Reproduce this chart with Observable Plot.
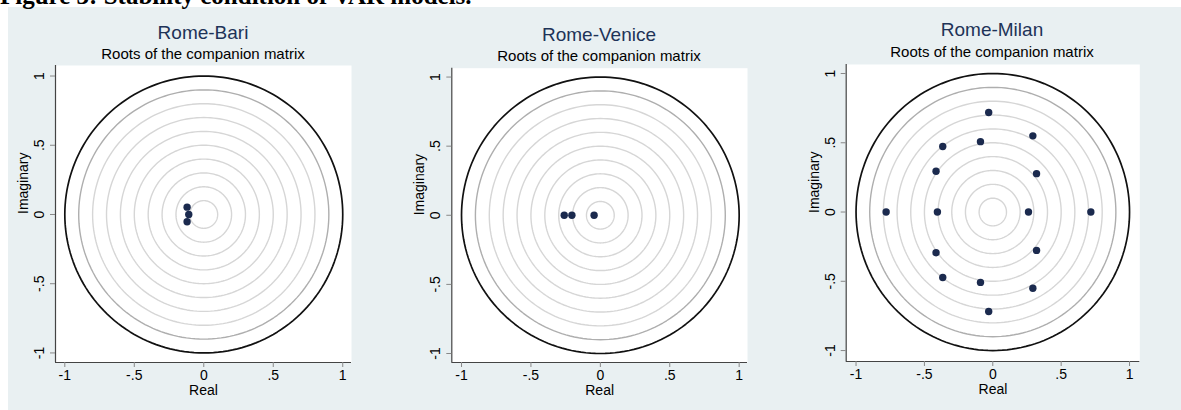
<!DOCTYPE html>
<html>
<head>
<meta charset="utf-8">
<script src="https://cdn.jsdelivr.net/npm/d3@7"></script>
<script src="https://cdn.jsdelivr.net/npm/@observablehq/plot@0.6"></script>
<style>
  html, body { margin: 0; padding: 0; background: #fff; }
  #page { position: relative; width: 1181px; height: 410px; overflow: hidden; background: #fff; }
  #bg { position: absolute; left: 8px; top: 7px; width: 1173px; height: 403px; background: #e9f0f2; }
  #heading { position: absolute; left: 0px; top: -17px; font-family: 'Liberation Serif', 'Times New Roman', serif; font-size: 25px; line-height: 25px; white-space: nowrap; color: #000; font-weight: bold; z-index: 3; }
  .title { position: absolute; font-family: 'Liberation Sans', Arial, sans-serif; font-size: 19px; line-height: 19px; color: #1e3358; text-align: center; width: 300px; white-space: nowrap; z-index: 2; }
  .subtitle { position: absolute; font-family: 'Liberation Sans', Arial, sans-serif; font-size: 15px; line-height: 15px; color: #000; text-align: center; width: 300px; white-space: nowrap; z-index: 2; }
  .plot { position: absolute; top: 0px; z-index: 1; }
</style>
</head>
<body>
<div id="page">
  <div id="bg"></div>
  <div id="heading"></div>
</div>
<script>
// ---- data ----
const headingText = "Figure 3: Stability condition of VAR models.";
const panelTitles = ["Rome-Bari", "Rome-Venice", "Rome-Milan"];
const subtitleText = "Roots of the companion matrix";
const xLabel = "Real";
const yLabel = "Imaginary";

const bariRe = [-0.120, -0.108, -0.120];
const bariIm = [0.053, 0.000, -0.053];

const veniceRe = [-0.260, -0.205, -0.045];
const veniceIm = [0.000, 0.000, 0.000];

const milanRe = [-0.030, 0.293, -0.090, -0.366, -0.415, 0.320, -0.780, -0.405, 0.261, 0.717, -0.415, 0.320, -0.366, -0.090, 0.293, -0.030];
const milanIm = [0.718, 0.550, 0.508, 0.473, 0.294, 0.277, 0.000, 0.000, 0.000, 0.000, -0.294, -0.277, -0.473, -0.508, -0.550, -0.718];

const tickValues = [-1, -0.5, 0, 0.5, 1];
const tickLabels = ["-1", "-.5", "0", ".5", "1"];

const gridRadii = [0.1, 0.2, 0.3, 0.4, 0.5, 0.6, 0.7, 0.8];
const outerGridRadius = [0.9];
const unitRadius = [1];

// ---- layout ----
const layout = [
  {left: 0,   w: 400, ml: 55,   mr: 49,   mt: 65,   mb: 48, xd: [-1.067, 1.063], yd: [-1.069, 1.076], tx: 203, ty: 23, sy: 46},
  {left: 400, w: 395, ml: 51.3, mr: 48,   mt: 67.7, mb: 48, xd: [-1.070, 1.060], yd: [-1.065, 1.064], tx: 599, ty: 25, sy: 48},
  {left: 795, w: 386, ml: 50.7, mr: 41.7, mt: 64,   mb: 49, xd: [-1.072, 1.075], yd: [-1.079, 1.065], tx: 992, ty: 20, sy: 43.5}
];

const seriesRe = [bariRe, veniceRe, milanRe];
const seriesIm = [bariIm, veniceIm, milanIm];

function ringPoints(radii) {
  const angles = d3.range(0, 361, 2);
  return radii.flatMap(r => angles.map(a => ({r, x: r * Math.cos(a * Math.PI / 180), y: r * Math.sin(a * Math.PI / 180)})));
}

function makePanel(cfg, re, im) {
  const roots = re.map((x, i) => ({x, y: im[i]}));
  return Plot.plot({
    width: cfg.w,
    height: 410,
    marginLeft: cfg.ml,
    marginRight: cfg.mr,
    marginTop: cfg.mt,
    marginBottom: cfg.mb,
    x: {domain: cfg.xd},
    y: {domain: cfg.yd},
    style: {background: "transparent", overflow: "visible", fontFamily: "'Liberation Sans', Arial, sans-serif", fontSize: "14px", color: "#000"},
    marks: [
      Plot.frame({fill: "white", stroke: "none"}),
      Plot.line(ringPoints(gridRadii), {x: "x", y: "y", z: "r", stroke: "#d6d6d6", strokeWidth: 1.4}),
      Plot.line(ringPoints(outerGridRadius), {x: "x", y: "y", z: "r", stroke: "#aeaeae", strokeWidth: 1.4}),
      Plot.line(ringPoints(unitRadius), {x: "x", y: "y", z: "r", stroke: "#111", strokeWidth: 1.7}),
      Plot.ruleX([cfg.xd[0]], {stroke: "#444", strokeWidth: 1.2}),
      Plot.ruleY([cfg.yd[0]], {stroke: "#444", strokeWidth: 1.2}),
      Plot.axisX({ticks: tickValues, tickFormat: d => tickLabels[tickValues.indexOf(d)], tickSize: 5, tickPadding: 3, stroke: "#888", fill: "#000", label: null, fontSize: 14}),
      Plot.axisY({ticks: tickValues, tickFormat: () => "", tickSize: 5, stroke: "#888", label: null}),
      Plot.text(tickValues, {x: cfg.xd[0], y: d => d, text: (d, i) => tickLabels[i], rotate: -90, dx: -16, textAnchor: "middle", lineAnchor: "middle", fontSize: 14, fill: "#000"}),
      Plot.text([xLabel], {frameAnchor: "bottom", dy: 32, fontSize: 14, fill: "#000"}),
      Plot.text([yLabel], {frameAnchor: "left", dx: -32, rotate: -90, fontSize: 14, fill: "#000"}),
      Plot.dot(roots, {x: "x", y: "y", r: 3.7, fill: "#1b2a4e", stroke: "none"})
    ]
  });
}

const page = document.getElementById("page");
document.getElementById("heading").textContent = headingText;

layout.forEach((cfg, i) => {
  const svg = makePanel(cfg, seriesRe[i], seriesIm[i]);
  svg.classList.add("plot");
  svg.style.left = cfg.left + "px";
  page.appendChild(svg);

  const t = document.createElement("div");
  t.className = "title";
  t.textContent = panelTitles[i];
  t.style.left = (cfg.tx - 150) + "px";
  t.style.top = cfg.ty + "px";
  page.appendChild(t);

  const s = document.createElement("div");
  s.className = "subtitle";
  s.textContent = subtitleText;
  s.style.left = (cfg.tx - 150) + "px";
  s.style.top = cfg.sy + "px";
  page.appendChild(s);
});
</script>
</body>
</html>
